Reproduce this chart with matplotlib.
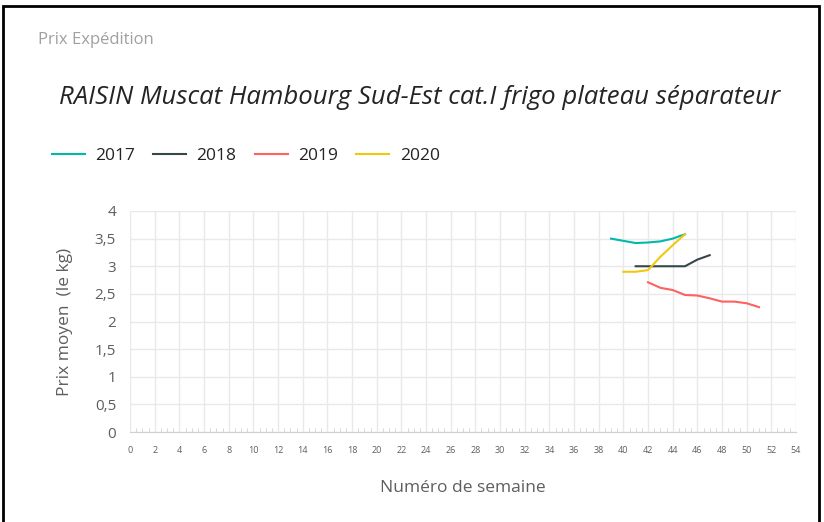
import matplotlib.pyplot as plt
import numpy as np
from matplotlib.patches import Rectangle

plt.rcParams['font.family'] = ['Open Sans', 'DejaVu Sans']

weeks_2017 = [39, 40, 41, 42, 43, 44, 45]
prix_2017 = [3.5, 3.46, 3.42, 3.43, 3.45, 3.5, 3.58]
weeks_2018 = [41, 42, 43, 44, 45, 46, 47]
prix_2018 = [3.0, 3.0, 3.0, 3.0, 3.0, 3.12, 3.2]
weeks_2019 = [42, 43, 44, 45, 46, 47, 48, 49, 50, 51]
prix_2019 = [2.71, 2.61, 2.57, 2.48, 2.47, 2.42, 2.36, 2.36, 2.33, 2.26]
weeks_2020 = [40, 41, 42, 43, 44, 45]
prix_2020 = [2.9, 2.9, 2.93, 3.17, 3.38, 3.58]

series = [("2017", weeks_2017, prix_2017, "#01B8AA"),
          ("2018", weeks_2018, prix_2018, "#374649"),
          ("2019", weeks_2019, prix_2019, "#FD625E"),
          ("2020", weeks_2020, prix_2020, "#F2C80F")]

fig = plt.figure(figsize=(8.24, 5.22), dpi=100)
ax = fig.add_axes([130 / 824, 1 - 432 / 522, 666 / 824, 221 / 522])

for name, w, p, c in series:
    ax.plot(w, p, color=c, lw=1.5, label=name)

ax.set_xlim(0, 54)
ax.set_ylim(0, 4)
ax.set_xticks(np.arange(0, 55, 2))
ax.set_xticks(np.arange(0, 54.1, 0.5), minor=True)
ax.set_yticks(np.arange(0, 4.01, 0.5))
ax.set_yticklabels(["0", "0,5", "1", "1,5", "2", "2,5", "3", "3,5", "4"])
ax.grid(True, color="#E9E9E9", lw=1)
ax.set_axisbelow(True)
for s in ["top", "right", "left"]:
    ax.spines[s].set_visible(False)
ax.spines["bottom"].set_color("#D0D0D0")
ax.tick_params(axis="y", length=0, labelsize=11, labelcolor="#605E5C", pad=10)
ax.tick_params(axis="x", which="major", length=0, labelsize=6.5, labelcolor="#605E5C", pad=10)
ax.tick_params(axis="x", which="minor", length=3, color="#D0D0D0", direction="in", width=0.6)

ax.set_xlabel("Numéro de semaine", fontsize=12.5, color="#605E5C", labelpad=18)
ax.set_ylabel("Prix moyen  (le kg)", fontsize=12.5, color="#605E5C", labelpad=16)

fig.text(38 / 824, 1 - 40 / 522, "Prix Expédition", fontsize=12, color="#A0A0A0", va="center")
fig.text(420 / 824, 1 - 97 / 522, "RAISIN Muscat Hambourg Sud-Est cat.I frigo plateau séparateur",
         fontsize=18.5, style="italic", color="#252423", ha="center", va="center")

fig.legend(loc="upper left", bbox_to_anchor=(36 / 824, 1 - 132 / 522), ncol=4, frameon=False,
           fontsize=12.5, handlelength=1.9, columnspacing=1.05, handletextpad=0.6,
           labelcolor="#252423")

fig.patches.append(Rectangle((3 / 824, -0.05), 816 / 824, 1.05 - 6 / 522, transform=fig.transFigure,
                             fill=False, edgecolor="black", lw=2))

fig.savefig("out.png", dpi=100)
